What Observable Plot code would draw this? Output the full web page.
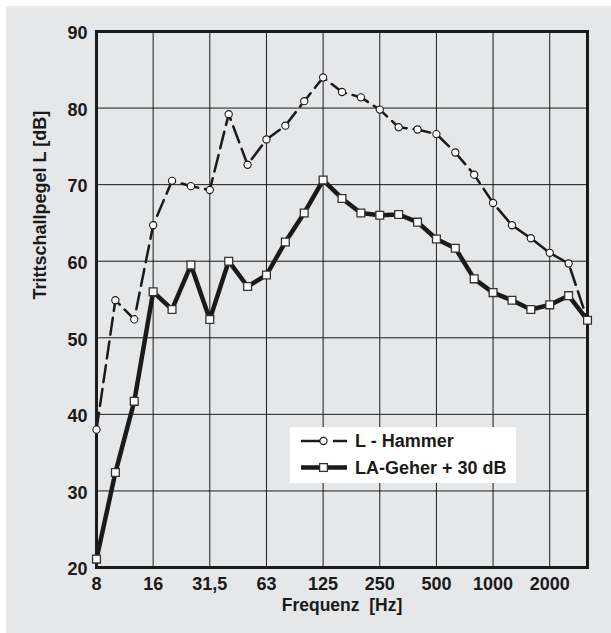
<!DOCTYPE html>
<html>
<head>
<meta charset="utf-8">
<script src="https://cdn.jsdelivr.net/npm/d3@7"></script>
<script src="https://cdn.jsdelivr.net/npm/@observablehq/plot@0.6"></script>
<style>
  html, body { margin: 0; padding: 0; background: #ffffff; }
  #wrap { position: relative; width: 611px; height: 633px; overflow: hidden; font-family: "Liberation Sans", Arial, sans-serif; }
  #panel { position: absolute; left: 6px; top: 6px; right: 0; bottom: 0; background: #e6e7e9; }
  #chart { position: absolute; left: 0; top: 0; }
  #legend { position: absolute; left: 290px; top: 427px; width: 226px; height: 56px; background: #ffffff; }
</style>
</head>
<body>
<div id="wrap">
  <div id="panel"></div>
  <div id="chart"></div>
  <div id="legend"></div>
</div>
<script>
// Third-octave band labels (index = position on the log frequency axis)
const bands = ["8","10","12,5","16","20","25","31,5","40","50","63","80","100","125","160","200","250","315","400","500","630","800","1000","1250","1600","2000","2500","3150"];
// L - Hammer [dB]
const hammer = [38.0, 54.9, 52.4, 64.7, 70.5, 69.8, 69.3, 79.2, 72.6, 75.9, 77.7, 80.9, 84.0, 82.1, 81.4, 79.8, 77.5, 77.2, 76.6, 74.2, 71.3, 67.6, 64.7, 63.0, 61.1, 59.7, 52.3];
// LA-Geher + 30 dB [dB]
const geher = [21.1, 32.4, 41.7, 56.0, 53.7, 59.5, 52.4, 60.0, 56.7, 58.2, 62.5, 66.3, 70.6, 68.2, 66.3, 66.0, 66.1, 65.1, 62.9, 61.7, 57.7, 55.9, 54.9, 53.7, 54.3, 55.5, 52.3];
// Labelled octave ticks
const tickBands = ["8","16","31,5","63","125","250","500","1000","2000"];
const yTicks = [20, 30, 40, 50, 60, 70, 80, 90];
const yGrid = [30, 40, 50, 60, 70, 80];
const seriesNames = ["L - Hammer", "LA-Geher + 30 dB"];
const yLabel = "Trittschallpegel L [dB]";
const xLabel = "Frequenz  [Hz]";

const hammerData = bands.map((b, i) => ({band: b, idx: i, value: hammer[i]}));
const geherData = bands.map((b, i) => ({band: b, idx: i, value: geher[i]}));
const tickIdx = tickBands.map(b => bands.indexOf(b));

const ink = "#1a1a1a";
const font = 18;

const plot = Plot.plot({
  width: 611,
  height: 633,
  marginLeft: 96,
  marginRight: 24,
  marginTop: 31,
  marginBottom: 66,
  style: {background: "transparent", fontFamily: "'Liberation Sans', Arial, sans-serif", color: ink},
  x: {domain: [0, bands.length - 1], axis: null},
  y: {domain: [20, 90], axis: null},
  marks: [
    Plot.gridX(tickIdx, {stroke: ink, strokeOpacity: 1, strokeWidth: 1}),
    Plot.gridY(yGrid, {stroke: ink, strokeOpacity: 1, strokeWidth: 1}),
    Plot.frame({stroke: ink, strokeWidth: 3}),
    Plot.line(hammerData, {x: "idx", y: "value", stroke: ink, strokeWidth: 2.5, strokeDasharray: "17,7"}),
    Plot.line(geherData, {x: "idx", y: "value", stroke: ink, strokeWidth: 4.5}),
    Plot.dot(hammerData, {x: "idx", y: "value", r: 3.6, fill: "white", stroke: ink, strokeWidth: 1.1}),
    Plot.dot(geherData, {x: "idx", y: "value", symbol: "square", r: 4.4, fill: "white", stroke: "#333", strokeWidth: 1.3}),
    Plot.axisX(tickIdx, {tickSize: 0, tickPadding: 10, tickFormat: i => bands[i], fontSize: font, fontWeight: "bold", fill: ink, label: null}),
    Plot.axisY(yTicks, {tickSize: 0, tickPadding: 9, fontSize: font, fontWeight: "bold", fill: ink, label: null, dy: 2}),
    Plot.text([yLabel], {frameAnchor: "left", dx: -56, rotate: -90, text: d => d, fontSize: font, fontWeight: "bold", fill: ink}),
    Plot.text([xLabel], {frameAnchor: "bottom", dy: 43, text: d => d, fontSize: 17.5, fontWeight: "bold", fill: ink})
  ]
});
document.getElementById("chart").appendChild(plot);

// Legend (HTML overlay with inline SVG samples)
const lg = d3.select("#legend").append("svg").attr("width", 226).attr("height", 56)
  .style("font-family", "'Liberation Sans', Arial, sans-serif");
const rows = [{y: 14, name: seriesNames[0], kind: "hammer"}, {y: 40.5, name: seriesNames[1], kind: "geher"}];
rows.forEach(r => {
  if (r.kind === "hammer") {
    lg.append("line").attr("x1", 11).attr("x2", 30).attr("y1", r.y).attr("y2", r.y).attr("stroke", ink).attr("stroke-width", 2.5);
    lg.append("line").attr("x1", 43).attr("x2", 57).attr("y1", r.y).attr("y2", r.y).attr("stroke", ink).attr("stroke-width", 2.5);
    lg.append("circle").attr("cx", 33.5).attr("cy", r.y).attr("r", 3.6).attr("fill", "white").attr("stroke", ink).attr("stroke-width", 1.1);
  } else {
    lg.append("line").attr("x1", 11).attr("x2", 57).attr("y1", r.y).attr("y2", r.y).attr("stroke", ink).attr("stroke-width", 4.5);
    lg.append("rect").attr("x", 33.5 - 3.9).attr("y", r.y - 3.9).attr("width", 7.8).attr("height", 7.8).attr("fill", "white").attr("stroke", "#333").attr("stroke-width", 1.3);
  }
  lg.append("text").attr("x", 65).attr("y", r.y).attr("dy", "0.36em").attr("font-size", font).attr("font-weight", "bold").attr("fill", ink).text(r.name);
});
</script>
</body>
</html>
